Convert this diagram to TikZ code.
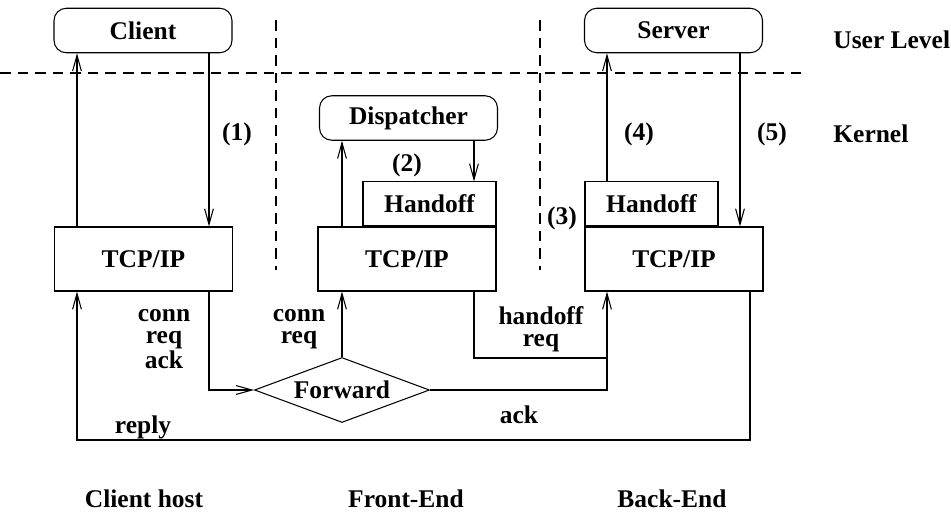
\documentclass[tikz,border=0pt]{standalone}
\usepackage{fontspec}
\setmainfont{Liberation Serif}
\usepackage{tikz}
\usetikzlibrary{shapes.geometric, arrows.meta}

\tikzstyle{base} = [font=\fontsize{14.5}{12}\selectfont\bfseries]
\tikzstyle{proc} = [base, rectangle, rounded corners=7pt, draw=black,
    minimum width=3.56cm, minimum height=0.89cm, text centered]
\tikzstyle{layer} = [base, rectangle, draw=black,
    minimum width=3.56cm, minimum height=1.28cm, text centered]
\tikzstyle{hoff} = [base, rectangle, draw=black,
    minimum width=2.66cm, minimum height=0.88cm, text centered]
\tikzstyle{decision} = [base, diamond, aspect=2.7, draw=black, inner sep=0pt,
    minimum width=3.5cm, minimum height=1.3cm]
\tikzstyle{lbl} = [font=\fontsize{14.5}{12.6}\selectfont\bfseries, align=center]
\tikzstyle{arrow} = [->, >={Straight Barb[length=9pt,width=5pt]}]
\tikzstyle{sepline} = [dash pattern=on 6pt off 4pt]

\begin{document}
\begin{tikzpicture}[x=0.02cm, y=-0.02cm, line width=0.6pt]
                \useasboundingbox (0,0) rectangle (951,514);

                % user/kernel split and host borders
                \draw [sepline] (0,73) -- (805,73);
                \draw [sepline] (276,20) -- (276,270);
                \draw [sepline] (540,20) -- (540,270);

                \node (client) [proc] at (143,30.5) {Client};
                \node (server) [proc] at (673.5,30.5) {Server};
                \node (disp) [proc] at (408.5,118) {Dispatcher};

                \node (ctcp) [layer] at (143.5,259) {TCP/IP};
                \node (ftcp) [layer] at (407,259) {TCP/IP};
                \node (btcp) [layer] at (674,259) {TCP/IP};
                \node (fhoff) [hoff, anchor=south east] at (ftcp.north east) {Handoff};
                \node (bhoff) [hoff, anchor=south west] at (btcp.north west) {Handoff};

                \node (fwd) [decision] at (342,390) {Forward};
                \coordinate (join) at (607,358);
                \coordinate (ret) at (750,440);

                \node (ulevel) [base, anchor=west] at (827,40) {User Level};
                \node (kernel) [base, anchor=west] at (827,134) {Kernel};

                \node (s1) [base] at (237,134) {(1)};
                \node (s2) [base] at (407,165) {(2)};
                \node (s3) [base] at (562,218) {(3)};
                \node (s4) [base] at (639,134) {(4)};
                \node (s5) [base] at (772,134) {(5)};

                \node (cra) [lbl] at (164,339) {conn\\req\\ack};
                \node (cr) [lbl] at (299,329) {conn\\req};
                \node (hr) [lbl] at (541,329) {handoff\\req};
                \node (ack) [base] at (519,415) {ack};
                \node (reply) [base] at (143,427) {reply};

                \node (chost) [base] at (144,499) {Client host};
                \node (fend) [base] at (406,499) {Front-End};
                \node (bend) [base] at (672,499) {Back-End};

                \draw [arrow] (ctcp.north -| 77,0) -- (client.south -| 77,0);
                \draw [arrow] (client.south -| 209,0) -- (ctcp.north -| 209,0);
                \draw [arrow] (ftcp.north -| 342,0) -- (disp.south -| 342,0);
                \draw [arrow] (disp.south -| 474,0) -- (fhoff.north -| 474,0);
                \draw [arrow] (bhoff.north -| 607,0) -- (server.south -| 607,0);
                \draw [arrow] (server.south -| 740,0) -- (btcp.north -| 740,0);

                \draw [arrow] (ctcp.south -| 209,0) |- (fwd.west);
                \draw [arrow] (fwd.north) -- (ftcp.south -| fwd.north);
                \draw (ftcp.south -| 474,0) |- (join);
                \draw [arrow] (fwd.east) -| (btcp.south -| join);
                \draw [arrow] (btcp.south -| ret) -- (ret) -| (ctcp.south -| 77,0);
            \end{tikzpicture}
\end{document}
